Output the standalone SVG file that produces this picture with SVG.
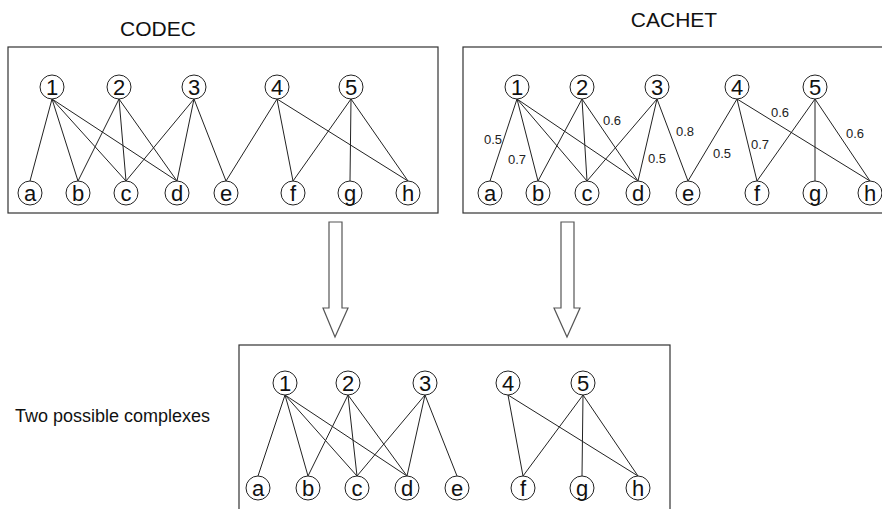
<svg xmlns="http://www.w3.org/2000/svg" width="882" height="509" viewBox="0 0 882 509">
  <style>
    .frame { fill: none; stroke: #333; stroke-width: 1.2; }
    .node circle { fill: #fff; stroke: #222; stroke-width: 1; }
    .node text { font-family: "Liberation Sans", Arial, sans-serif; font-size: 22px; fill: #111; text-anchor: middle; }
    .edges line { stroke: #222; stroke-width: 1; }
    .weight { font-family: "Liberation Sans", Arial, sans-serif; font-size: 13px; fill: #222; text-anchor: middle; }
    .title { font-family: "Liberation Sans", Arial, sans-serif; font-size: 21px; fill: #111; text-anchor: middle; }
    .caption { font-family: "Liberation Sans", Arial, sans-serif; font-size: 18px; fill: #111; }
    .flow { fill: #fff; stroke: #555; stroke-width: 1.2; }
  </style>
  <rect width="882" height="509" fill="#fff"/>

  <!-- panel titles -->
  <text class="title" x="158" y="36">CODEC</text>
  <text class="title" x="674" y="27">CACHET</text>

  <!-- panel frames -->
  <rect class="frame" x="8" y="47" width="430" height="166"/>
  <rect class="frame" x="463" y="47" width="430" height="166"/>
  <rect class="frame" x="239" y="345" width="431" height="180"/>

  <!-- flow arrows -->
  <g id="flow-arrows">
    <polygon class="flow" points="329,222 342,222 342,308 348,308 335,337 323,308 329,308"/>
    <polygon class="flow" points="561,222 574,222 574,308 580,308 567,337 554,308 561,308"/>
  </g>

  <text class="caption" x="15" y="422">Two possible complexes</text>

  <!-- CODEC edges -->
  <g id="codec-edges" class="edges">
    <line x1="52" y1="99" x2="30" y2="181"/>
    <line x1="52" y1="99" x2="78" y2="181"/>
    <line x1="52" y1="99" x2="126" y2="181"/>
    <line x1="52" y1="99" x2="177" y2="181"/>
    <line x1="119" y1="99" x2="78" y2="181"/>
    <line x1="119" y1="99" x2="126" y2="181"/>
    <line x1="119" y1="99" x2="177" y2="181"/>
    <line x1="194" y1="99" x2="126" y2="181"/>
    <line x1="194" y1="99" x2="177" y2="181"/>
    <line x1="194" y1="99" x2="226" y2="181"/>
    <line x1="277" y1="99" x2="226" y2="181"/>
    <line x1="277" y1="99" x2="293" y2="181"/>
    <line x1="277" y1="99" x2="408" y2="181"/>
    <line x1="351" y1="99" x2="293" y2="181"/>
    <line x1="351" y1="99" x2="350" y2="181"/>
    <line x1="351" y1="99" x2="408" y2="181"/>
  </g>

  <!-- CACHET edges -->
  <g id="cachet-edges" class="edges">
    <line x1="517" y1="99" x2="490" y2="181"/>
    <line x1="517" y1="99" x2="538" y2="181"/>
    <line x1="517" y1="99" x2="587" y2="181"/>
    <line x1="517" y1="99" x2="638" y2="181"/>
    <line x1="582" y1="99" x2="538" y2="181"/>
    <line x1="582" y1="99" x2="587" y2="181"/>
    <line x1="582" y1="99" x2="638" y2="181"/>
    <line x1="657" y1="99" x2="587" y2="181"/>
    <line x1="657" y1="99" x2="638" y2="181"/>
    <line x1="657" y1="99" x2="688" y2="181"/>
    <line x1="737" y1="99" x2="688" y2="181"/>
    <line x1="737" y1="99" x2="757" y2="181"/>
    <line x1="737" y1="99" x2="870" y2="181"/>
    <line x1="815" y1="99" x2="757" y2="181"/>
    <line x1="815" y1="99" x2="815" y2="181"/>
    <line x1="815" y1="99" x2="870" y2="181"/>
  </g>

  <!-- CACHET edge weights -->
  <g id="cachet-weights">
    <text class="weight" x="493" y="144">0.5</text>
    <text class="weight" x="517" y="164">0.7</text>
    <text class="weight" x="612" y="125">0.6</text>
    <text class="weight" x="685" y="136">0.8</text>
    <text class="weight" x="657" y="163">0.5</text>
    <text class="weight" x="722" y="158">0.5</text>
    <text class="weight" x="760" y="149">0.7</text>
    <text class="weight" x="780" y="117">0.6</text>
    <text class="weight" x="855" y="138">0.6</text>
  </g>

  <!-- complexes edges -->
  <g id="complex-edges" class="edges">
    <line x1="285" y1="395" x2="258" y2="476"/>
    <line x1="285" y1="395" x2="308" y2="476"/>
    <line x1="285" y1="395" x2="357" y2="476"/>
    <line x1="285" y1="395" x2="407" y2="476"/>
    <line x1="348" y1="395" x2="308" y2="476"/>
    <line x1="348" y1="395" x2="357" y2="476"/>
    <line x1="348" y1="395" x2="407" y2="476"/>
    <line x1="425" y1="395" x2="357" y2="476"/>
    <line x1="425" y1="395" x2="407" y2="476"/>
    <line x1="425" y1="395" x2="457" y2="476"/>
    <line x1="508" y1="395" x2="523" y2="476"/>
    <line x1="508" y1="395" x2="638" y2="476"/>
    <line x1="583" y1="395" x2="523" y2="476"/>
    <line x1="583" y1="395" x2="582" y2="476"/>
    <line x1="583" y1="395" x2="638" y2="476"/>
  </g>

  <!-- CODEC nodes -->
  <g id="codec-1" class="node"><circle cx="52" cy="87" r="12"/><text x="52" y="95">1</text></g>
  <g id="codec-2" class="node"><circle cx="119" cy="87" r="12"/><text x="119" y="95">2</text></g>
  <g id="codec-3" class="node"><circle cx="194" cy="87" r="12"/><text x="194" y="95">3</text></g>
  <g id="codec-4" class="node"><circle cx="277" cy="87" r="12"/><text x="277" y="95">4</text></g>
  <g id="codec-5" class="node"><circle cx="351" cy="87" r="12"/><text x="351" y="95">5</text></g>
  <g id="codec-a" class="node"><circle cx="30" cy="193" r="12"/><text x="30" y="201">a</text></g>
  <g id="codec-b" class="node"><circle cx="78" cy="193" r="12"/><text x="78" y="201">b</text></g>
  <g id="codec-c" class="node"><circle cx="126" cy="193" r="12"/><text x="126" y="201">c</text></g>
  <g id="codec-d" class="node"><circle cx="177" cy="193" r="12"/><text x="177" y="201">d</text></g>
  <g id="codec-e" class="node"><circle cx="226" cy="193" r="12"/><text x="226" y="201">e</text></g>
  <g id="codec-f" class="node"><circle cx="293" cy="193" r="12"/><text x="293" y="201">f</text></g>
  <g id="codec-g" class="node"><circle cx="350" cy="193" r="12"/><text x="350" y="201">g</text></g>
  <g id="codec-h" class="node"><circle cx="408" cy="193" r="12"/><text x="408" y="201">h</text></g>

  <!-- CACHET nodes -->
  <g id="cachet-1" class="node"><circle cx="517" cy="87" r="12"/><text x="517" y="95">1</text></g>
  <g id="cachet-2" class="node"><circle cx="582" cy="87" r="12"/><text x="582" y="95">2</text></g>
  <g id="cachet-3" class="node"><circle cx="657" cy="87" r="12"/><text x="657" y="95">3</text></g>
  <g id="cachet-4" class="node"><circle cx="737" cy="87" r="12"/><text x="737" y="95">4</text></g>
  <g id="cachet-5" class="node"><circle cx="815" cy="87" r="12"/><text x="815" y="95">5</text></g>
  <g id="cachet-a" class="node"><circle cx="490" cy="193" r="12"/><text x="490" y="201">a</text></g>
  <g id="cachet-b" class="node"><circle cx="538" cy="193" r="12"/><text x="538" y="201">b</text></g>
  <g id="cachet-c" class="node"><circle cx="587" cy="193" r="12"/><text x="587" y="201">c</text></g>
  <g id="cachet-d" class="node"><circle cx="638" cy="193" r="12"/><text x="638" y="201">d</text></g>
  <g id="cachet-e" class="node"><circle cx="688" cy="193" r="12"/><text x="688" y="201">e</text></g>
  <g id="cachet-f" class="node"><circle cx="757" cy="193" r="12"/><text x="757" y="201">f</text></g>
  <g id="cachet-g" class="node"><circle cx="815" cy="193" r="12"/><text x="815" y="201">g</text></g>
  <g id="cachet-h" class="node"><circle cx="870" cy="193" r="12"/><text x="870" y="201">h</text></g>

  <!-- complexes nodes -->
  <g id="complex-1" class="node"><circle cx="285" cy="383" r="12"/><text x="285" y="391">1</text></g>
  <g id="complex-2" class="node"><circle cx="348" cy="383" r="12"/><text x="348" y="391">2</text></g>
  <g id="complex-3" class="node"><circle cx="425" cy="383" r="12"/><text x="425" y="391">3</text></g>
  <g id="complex-4" class="node"><circle cx="508" cy="383" r="12"/><text x="508" y="391">4</text></g>
  <g id="complex-5" class="node"><circle cx="583" cy="383" r="12"/><text x="583" y="391">5</text></g>
  <g id="complex-a" class="node"><circle cx="258" cy="488" r="12"/><text x="258" y="496">a</text></g>
  <g id="complex-b" class="node"><circle cx="308" cy="488" r="12"/><text x="308" y="496">b</text></g>
  <g id="complex-c" class="node"><circle cx="357" cy="488" r="12"/><text x="357" y="496">c</text></g>
  <g id="complex-d" class="node"><circle cx="407" cy="488" r="12"/><text x="407" y="496">d</text></g>
  <g id="complex-e" class="node"><circle cx="457" cy="488" r="12"/><text x="457" y="496">e</text></g>
  <g id="complex-f" class="node"><circle cx="523" cy="488" r="12"/><text x="523" y="496">f</text></g>
  <g id="complex-g" class="node"><circle cx="582" cy="488" r="12"/><text x="582" y="496">g</text></g>
  <g id="complex-h" class="node"><circle cx="638" cy="488" r="12"/><text x="638" y="496">h</text></g>
</svg>
